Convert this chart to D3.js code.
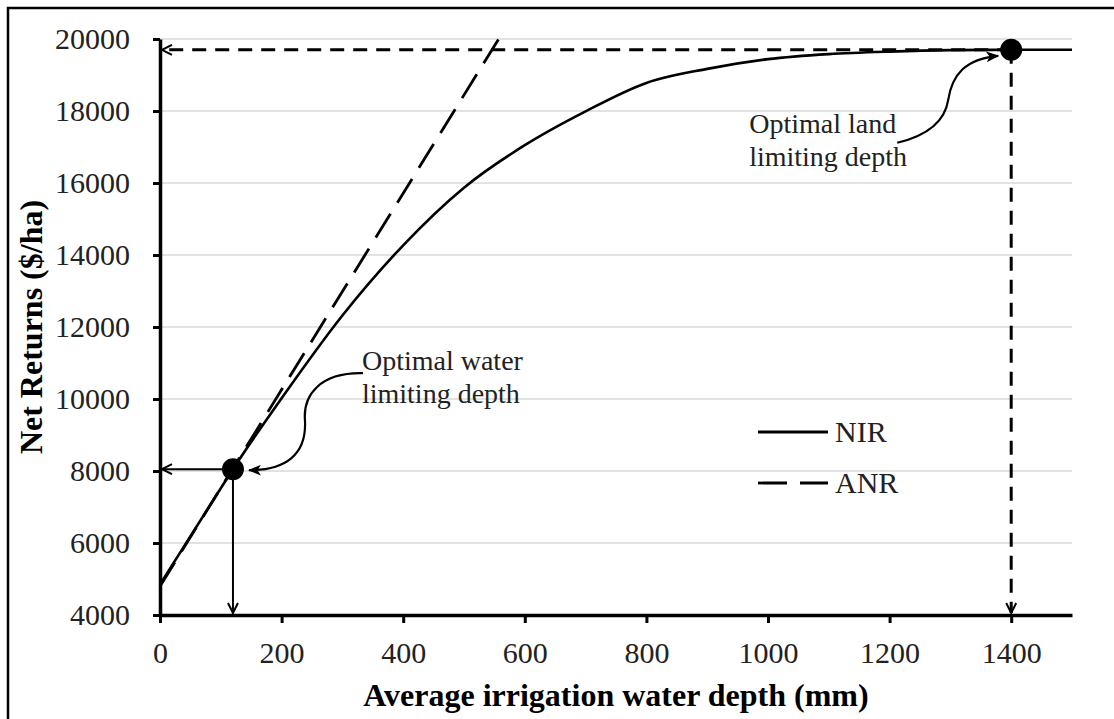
<!DOCTYPE html>
<html>
<head>
<meta charset="utf-8">
<script src="https://cdn.jsdelivr.net/npm/d3@7"></script>
<style>
  body { margin: 0; background: #fff; }
  svg { display: block; font-family: "Liberation Serif", "Times New Roman", serif; }
  .grid line { stroke: #d9d9d9; stroke-width: 1.5px; }
  .axis path, .axis line { stroke: #000; }
  .axis path { stroke-width: 3.5px; }
  .axis line { stroke-width: 3px; }
  .axis text { font-size: 30px; fill: #222; font-family: "Liberation Serif", serif; }
  .title { font-size: 32px; font-weight: bold; fill: #000; }
  .note { font-size: 28px; fill: #222; }
  .legend-label { font-size: 30px; fill: #222; }
</style>
</head>
<body>
<svg id="chart" width="1114" height="719"></svg>
<script>
// data
const xTicks = [0, 200, 400, 600, 800, 1000, 1200, 1400];
const yTicks = [4000, 6000, 8000, 10000, 12000, 14000, 16000, 18000, 20000];

// NIR: net irrigation returns curve
const nirX = [0, 100, 120, 200, 300, 400, 500, 600, 700, 800, 900, 1000, 1100, 1200, 1300, 1400, 1500];
const nirY = [4850, 7520, 8050, 10020, 12320, 14270, 15870, 17050, 17990, 18780, 19170, 19440, 19580, 19650, 19690, 19700, 19700];

// ANR: straight tangent line
const anrX = [0, 557];
const anrY = [4800, 20000];

// optimal points
const waterOpt = { x: 120, y: 8050 };
const landOpt = { x: 1400, y: 19700 };

const svg = d3.select('#chart');

let x = d3.scaleLinear().domain([0, 1500]).range([160, 1072]);
let y = d3.scaleLinear().domain([4000, 20000]).range([615, 39]);

// outer frame (only left/top visible in the figure)
svg.append('rect').attr('x', 8).attr('y', 8).attr('width', 1130).attr('height', 730)
    .attr('fill', 'none').attr('stroke', '#000').attr('stroke-width', 2.5);

// markers
let defs = svg.append('defs');
defs.append('marker').attr('id', 'open-head')
    .attr('viewBox', '0 0 12 12').attr('refX', 11).attr('refY', 6)
    .attr('markerWidth', 12).attr('markerHeight', 12).attr('markerUnits', 'userSpaceOnUse')
    .attr('orient', 'auto')
  .append('path').attr('d', 'M1,1 L11,6 L1,11').attr('fill', 'none')
    .attr('stroke', '#000').attr('stroke-width', 2);
defs.append('marker').attr('id', 'solid-head')
    .attr('viewBox', '0 0 12 10').attr('refX', 11).attr('refY', 5)
    .attr('markerWidth', 13).attr('markerHeight', 11).attr('markerUnits', 'userSpaceOnUse')
    .attr('orient', 'auto')
  .append('path').attr('d', 'M0,0 L12,5 L0,10 L3,5 Z').attr('fill', '#000');

// gridlines
svg.append('g').classed('grid', true)
  .selectAll('line').data(yTicks.filter(d => d > 4000)).join('line')
    .attr('x1', x(0)).attr('x2', x(1500))
    .attr('y1', d => y(d)).attr('y2', d => y(d));

// curves
let nirLine = d3.line().x(d => x(d[0])).y(d => y(d[1])).curve(d3.curveMonotoneX);
svg.append('path').attr('d', nirLine(d3.zip(nirX, nirY)))
    .attr('fill', 'none').attr('stroke', '#000').attr('stroke-width', 2.6);

svg.append('path').attr('d', d3.line().x(d => x(d[0])).y(d => y(d[1]))(d3.zip(anrX, anrY)))
    .attr('fill', 'none').attr('stroke', '#000').attr('stroke-width', 2.8)
    .attr('stroke-dasharray', '28,13');

// drop lines from the water point (solid)
svg.append('line').attr('x1', x(waterOpt.x)).attr('y1', y(waterOpt.y))
    .attr('x2', x(0) + 2).attr('y2', y(waterOpt.y))
    .attr('stroke', '#000').attr('stroke-width', 2).attr('marker-end', 'url(#open-head)');
svg.append('line').attr('x1', x(waterOpt.x)).attr('y1', y(waterOpt.y))
    .attr('x2', x(waterOpt.x)).attr('y2', y(4000) - 2)
    .attr('stroke', '#000').attr('stroke-width', 2).attr('marker-end', 'url(#open-head)');

// drop lines from the land point (dashed)
svg.append('line').attr('x1', x(landOpt.x)).attr('y1', y(landOpt.y))
    .attr('x2', x(0) + 2).attr('y2', y(landOpt.y))
    .attr('stroke', '#000').attr('stroke-width', 3).attr('stroke-dasharray', '14,9')
    .attr('marker-end', 'url(#open-head)');
svg.append('line').attr('x1', x(landOpt.x)).attr('y1', y(landOpt.y))
    .attr('x2', x(landOpt.x)).attr('y2', y(4000) - 2)
    .attr('stroke', '#000').attr('stroke-width', 3).attr('stroke-dasharray', '14,9')
    .attr('marker-end', 'url(#open-head)');

// dots
svg.selectAll('circle.opt').data([waterOpt, landOpt]).join('circle').classed('opt', true)
    .attr('cx', d => x(d.x)).attr('cy', d => y(d.y)).attr('r', 11).attr('fill', '#000');

// curly annotation arrows, offsets from the point they point at
let wx = x(waterOpt.x), wy = y(waterOpt.y);
let wp = d3.path();
wp.moveTo(wx + 130, wy - 96);
wp.bezierCurveTo(wx + 87, wy - 97, wx + 70, wy - 74, wx + 72, wy - 49);
wp.bezierCurveTo(wx + 74, wy - 14, wx + 52, wy + 1, wx + 16, wy + 1);
svg.append('path').attr('d', wp.toString()).attr('fill', 'none')
    .attr('stroke', '#000').attr('stroke-width', 2.2).attr('marker-end', 'url(#solid-head)');

let lx = x(landOpt.x), ly = y(landOpt.y);
let lp = d3.path();
lp.moveTo(lx - 114, ly + 93);
lp.bezierCurveTo(lx - 81, ly + 85, lx - 66, ly + 70, lx - 63, ly + 50);
lp.bezierCurveTo(lx - 59, ly + 25, lx - 46, ly + 9, lx - 13, ly + 6);
svg.append('path').attr('d', lp.toString()).attr('fill', 'none')
    .attr('stroke', '#000').attr('stroke-width', 2.2).attr('marker-end', 'url(#solid-head)');

// annotation text
let note = (tx, ty, lines) => {
    let t = svg.append('text').classed('note', true).attr('x', tx).attr('y', ty);
    lines.forEach((s, i) => t.append('tspan').attr('x', tx).attr('dy', i === 0 ? 0 : 33).text(s));
};
note(wx + 129, wy - 99, ['Optimal water', 'limiting depth']);
note(lx - 262, ly + 83, ['Optimal land', 'limiting depth']);

// legend
let legend = svg.append('g').attr('transform', 'translate(758,432)');
legend.append('line').attr('x1', 0).attr('x2', 70).attr('y1', 0).attr('y2', 0)
    .attr('stroke', '#000').attr('stroke-width', 2.8);
legend.append('text').classed('legend-label', true).attr('x', 77).attr('y', 10).text('NIR');
legend.append('line').attr('x1', 0).attr('x2', 70).attr('y1', 51).attr('y2', 51)
    .attr('stroke', '#000').attr('stroke-width', 2.8).attr('stroke-dasharray', '29,13');
legend.append('text').classed('legend-label', true).attr('x', 77).attr('y', 61).text('ANR');

// axes
svg.append('g').classed('axis', true).attr('transform', 'translate(0,' + y(4000) + ')')
    .call(d3.axisBottom(x).tickValues(xTicks).tickFormat(d3.format('d'))
        .tickSize(8).tickSizeOuter(0).tickPadding(19))
    .call(g => g.selectAll('text').attr('fill', '#222'));
svg.append('g').classed('axis', true).attr('transform', 'translate(' + x(0) + ',0)')
    .call(d3.axisLeft(y).tickValues(yTicks).tickFormat(d3.format('d'))
        .tickSize(7).tickSizeOuter(0).tickPadding(23))
    .call(g => g.selectAll('text').attr('fill', '#222'));

// axis titles
svg.append('text').classed('title', true).attr('text-anchor', 'middle')
    .attr('x', (x(0) + x(1500)) / 2).attr('y', 706).text('Average irrigation water depth (mm)');
svg.append('text').classed('title', true).attr('text-anchor', 'middle')
    .attr('transform', 'translate(42,' + (y(4000) + y(20000)) / 2 + ') rotate(-90)')
    .text('Net Returns ($/ha)');
</script>
</body>
</html>
